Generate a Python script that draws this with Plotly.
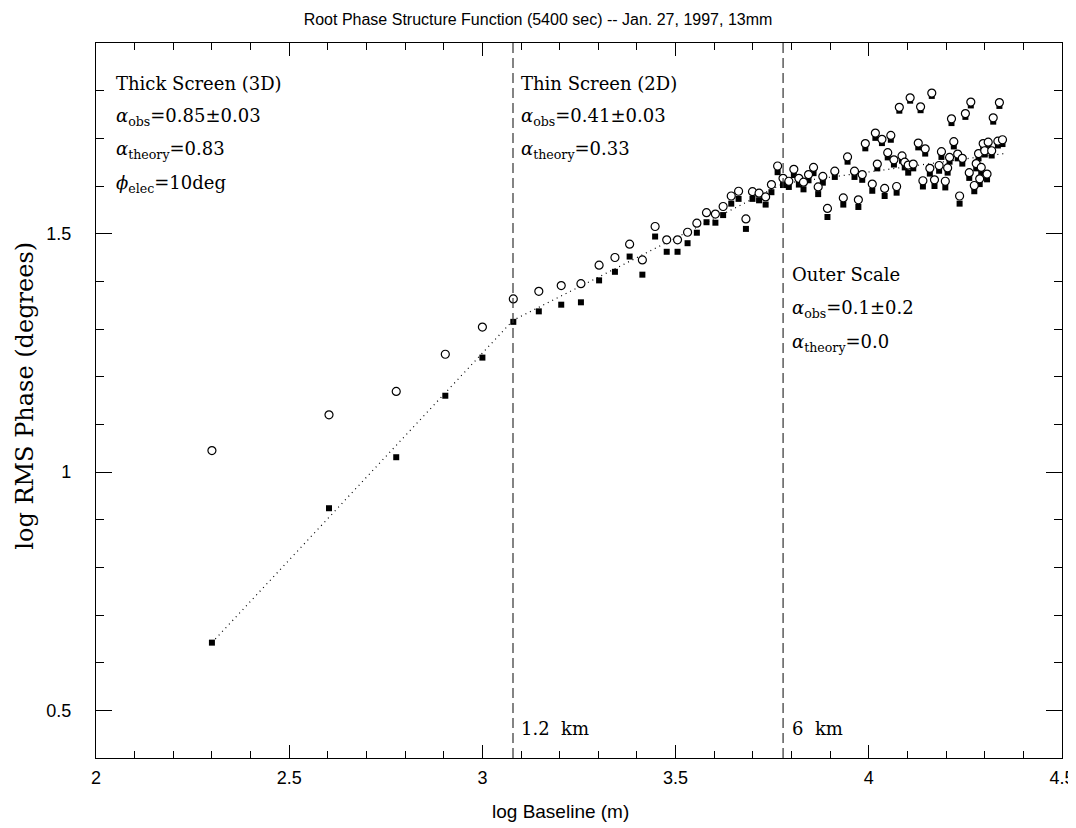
import math
import plotly.graph_objects as go

# ---------------- data ----------------
log_baseline = [
    2.300, 2.603, 2.777, 2.904, 3.000, 3.080, 3.146, 3.204, 3.255, 3.302,
    3.343, 3.381, 3.414, 3.447, 3.477, 3.505, 3.531, 3.555, 3.580, 3.603,
    3.623, 3.644, 3.663, 3.682, 3.699, 3.716, 3.733, 3.748, 3.764, 3.778,
    3.793, 3.806, 3.819, 3.831, 3.844, 3.857, 3.869, 3.881, 3.893, 3.912,
    3.934, 3.945, 3.963, 3.973, 3.983, 3.991, 4.009, 4.022, 4.017, 4.034,
    4.057, 4.049, 4.041, 4.072, 4.065, 4.086, 4.093, 4.102, 4.115, 4.079,
    4.107, 4.134, 4.163, 4.128, 4.146, 4.140, 4.158, 4.170, 4.182, 4.188,
    4.198, 4.204, 4.209, 4.220, 4.214, 4.230, 4.242, 4.235, 4.250, 4.264,
    4.338, 4.322, 4.284, 4.296, 4.309, 4.300, 4.318, 4.334, 4.346, 4.260,
    4.278, 4.291, 4.306, 4.287, 4.273,
]
rms_phase_filled = [
    0.642, 0.924, 1.031, 1.160, 1.240, 1.315, 1.337, 1.351, 1.356, 1.402,
    1.420, 1.452, 1.414, 1.494, 1.462, 1.462, 1.480, 1.502, 1.524, 1.523,
    1.539, 1.563, 1.573, 1.510, 1.573, 1.570, 1.561, 1.587, 1.629, 1.602,
    1.598, 1.623, 1.603, 1.593, 1.612, 1.627, 1.583, 1.607, 1.535, 1.619,
    1.561, 1.651, 1.619, 1.556, 1.613, 1.679, 1.590, 1.637, 1.701, 1.690,
    1.697, 1.660, 1.579, 1.586, 1.645, 1.653, 1.639, 1.628, 1.637, 1.758,
    1.779, 1.759, 1.789, 1.681, 1.668, 1.599, 1.626, 1.600, 1.632, 1.661,
    1.597, 1.628, 1.651, 1.683, 1.732, 1.658, 1.647, 1.563, 1.745, 1.769,
    1.768, 1.735, 1.658, 1.679, 1.682, 1.666, 1.664, 1.685, 1.688, 1.617,
    1.637, 1.628, 1.614, 1.604, 1.589,
]
rms_phase_open = [
    1.045, 1.120, 1.169, 1.247, 1.304, 1.363, 1.379, 1.391, 1.395, 1.434,
    1.450, 1.478, 1.445, 1.515, 1.487, 1.487, 1.503, 1.522, 1.544, 1.541,
    1.557, 1.579, 1.589, 1.531, 1.588, 1.585, 1.577, 1.603, 1.642, 1.616,
    1.610, 1.635, 1.616, 1.608, 1.624, 1.639, 1.598, 1.620, 1.553, 1.631,
    1.575, 1.661, 1.631, 1.571, 1.624, 1.689, 1.604, 1.646, 1.711, 1.698,
    1.706, 1.670, 1.595, 1.599, 1.655, 1.663, 1.650, 1.644, 1.646, 1.765,
    1.785, 1.766, 1.795, 1.690, 1.678, 1.611, 1.637, 1.613, 1.643, 1.672,
    1.610, 1.638, 1.660, 1.693, 1.741, 1.667, 1.658, 1.579, 1.752, 1.776,
    1.775, 1.743, 1.668, 1.689, 1.692, 1.674, 1.674, 1.694, 1.697, 1.628,
    1.647, 1.639, 1.625, 1.615, 1.601,
]

# piecewise power-law fit
fit_x = [2.300, 3.079, 3.778, 4.350]
fit_y = [0.642, 1.318, 1.605, 1.668]

# scale breaks (km)
break_km = [1.2, 6]
break_labels = ["1.2  km", "6  km"]
break_x = [math.log10(k * 1000) for k in break_km]

x_ticks = [2, 2.5, 3, 3.5, 4, 4.5]
y_ticks = [0.5, 1, 1.5]

SERIF = "DejaVu Serif, serif"
SANS = "Liberation Sans, Arial, sans-serif"

# the page body adds an 8px margin; size the figure to fill the rest
PAGE_W, PAGE_H, BODY = 1076, 828, 8
FIG_W, FIG_H = PAGE_W - BODY, PAGE_H - BODY
M_L, M_R, M_T, M_B = 95.7 - BODY, 13.6, 42.6 - BODY, 70.2
PLOT_W = FIG_W - M_L - M_R
PLOT_H = FIG_H - M_T - M_B

fig = go.Figure()

fig.add_trace(go.Scatter(
    x=fit_x, y=fit_y, mode="lines",
    line=dict(color="black", width=1.2, dash="1px,4px"),
    hoverinfo="skip", showlegend=False,
))
fig.add_trace(go.Scatter(
    x=log_baseline, y=rms_phase_filled, mode="markers",
    marker=dict(symbol="square", size=6, color="black", line=dict(width=0)),
    showlegend=False,
))
fig.add_trace(go.Scatter(
    x=log_baseline, y=rms_phase_open, mode="markers",
    marker=dict(symbol="circle", size=8, color="white",
                line=dict(color="black", width=1.2)),
    showlegend=False,
))

for bx in break_x:
    fig.add_shape(type="line", xref="x", yref="paper", x0=bx, x1=bx, y0=0, y1=1,
                  line=dict(color="#333333", width=1.2, dash="10px,5px"))

ann_font = dict(family=SERIF, size=18, color="black")
texts = [
    (2.047, 1.815, "Thick Screen (3D)"),
    (2.047, 1.744, "<i>α</i><sub>obs</sub>=0.85±0.03"),
    (2.047, 1.675, "<i>α</i><sub>theory</sub>=0.83"),
    (2.047, 1.605, "<i>ϕ</i><sub>elec</sub>=10deg"),
    (3.094, 1.815, "Thin Screen (2D)"),
    (3.094, 1.744, "<i>α</i><sub>obs</sub>=0.41±0.03"),
    (3.094, 1.675, "<i>α</i><sub>theory</sub>=0.33"),
    (3.796, 1.415, "Outer Scale"),
    (3.796, 1.343, "<i>α</i><sub>obs</sub>=0.1±0.2"),
    (3.796, 1.270, "<i>α</i><sub>theory</sub>=0.0"),
    (3.094, 0.461, break_labels[0]),
    (3.796, 0.461, break_labels[1]),
]
for x, y, t in texts:
    fig.add_annotation(x=x, y=y, xref="x", yref="y", text=t, showarrow=False,
                       xanchor="left", yanchor="middle", font=ann_font)

# axis titles as annotations (placed as in the reference)
fig.add_annotation(
    text="log Baseline (m)", xref="paper", yref="paper",
    x=(561 - 95.7) / PLOT_W, y=-(811 - 757.8) / PLOT_H,
    xanchor="center", yanchor="middle", showarrow=False,
    font=dict(family=SANS, size=19, color="black"),
)
fig.add_annotation(
    text="log RMS Phase (degrees)", xref="paper", yref="paper",
    x=(25 - 95.7) / PLOT_W, y=(757.8 - 395) / PLOT_H, textangle=-90,
    xanchor="center", yanchor="middle", showarrow=False,
    font=dict(family=SERIF, size=24, color="black"),
)

axis_common = dict(
    showline=True, linecolor="black", linewidth=1.2, mirror="ticks",
    ticks="inside", tickcolor="black", tickwidth=1.2,
    showgrid=False, zeroline=False, automargin=False,
    tickfont=dict(family=SANS, size=18, color="black"),
)

fig.update_xaxes(
    range=[2, 4.5], tickvals=x_ticks, ticklen=13,
    minor=dict(dtick=0.1, ticklen=7, ticks="inside", tickcolor="black", tickwidth=1.2),
    ticklabelstandoff=3,
    **axis_common,
)
fig.update_yaxes(
    range=[0.4, 1.9], tickvals=y_ticks, ticklen=16,
    minor=dict(dtick=0.1, ticklen=8, ticks="inside", tickcolor="black", tickwidth=1.2),
    ticklabelstandoff=20,
    **axis_common,
)

fig.update_layout(
    width=FIG_W, height=FIG_H,
    margin=dict(l=M_L, r=M_R, t=M_T, b=M_B),
    paper_bgcolor="white", plot_bgcolor="white",
    title=dict(text="Root Phase Structure Function (5400 sec) -- Jan. 27, 1997, 13mm",
               x=(538 - BODY) / FIG_W, xref="container", xanchor="center",
               y=1 - (19 - BODY) / FIG_H, yref="container", yanchor="middle",
               font=dict(family=SANS, size=16, color="black")),
    showlegend=False,
)

fig.write_html("out.html")
